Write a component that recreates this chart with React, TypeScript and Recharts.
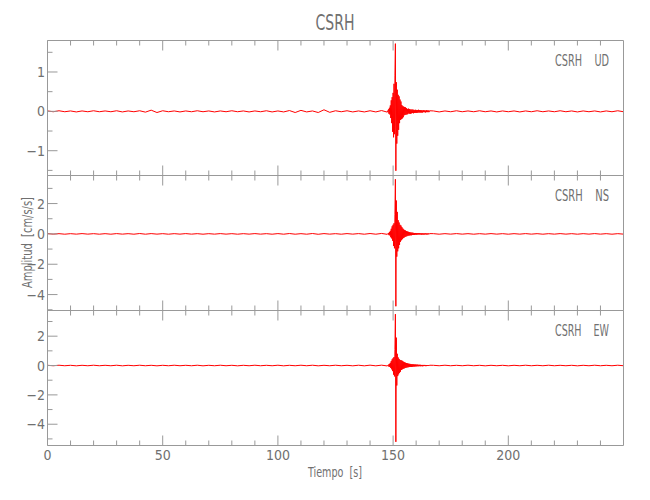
import { Line, LineChart, XAxis, YAxis } from "recharts";

// tiempo [s]
const xTicks = [0, 10, 20, 30, 40, 50, 60, 70, 80, 90, 100, 110, 120, 130, 140, 150, 160, 170, 180, 190, 200, 210, 220, 230, 240];
const xMajor = [0, 50, 100, 150, 200];

const udTicks = [-1.5, -1, -0.5, 0, 0.5, 1, 1.5];
const udMajor = [-1, 0, 1];
const nsTicks = [-5, -4, -3, -2, -1, 0, 1, 2, 3];
const nsMajor = [-4, -2, 0, 2];
const ewTicks = [-5, -4, -3, -2, -1, 0, 1, 2, 3];
const ewMajor = [-4, -2, 0, 2];

// muestreo: ruido cada 2.5 s, evento cada 0.2 s desde 148 s, ruido desde 167.5 s
const bgStep = 2.5;
const evStart = 148;
const evStep = 0.2;
const postStart = 167.5;

const udPre = [
  0.01, -0.01, 0.015, -0.01, 0.01, -0.015, 0.01, -0.01, 0.015, -0.01,
  0.01, -0.01, 0.015, -0.015, 0.01, -0.01, 0.015, -0.02, 0.03, -0.03,
  0.015, -0.01, 0.01, -0.015, 0.01, -0.01, 0.015, -0.01, 0.01, -0.015,
  0.01, -0.01, 0.015, -0.01, 0.01, -0.015, 0.01, -0.01, 0.015, -0.015,
  0.01, -0.015, 0.02, -0.03, 0.025, -0.015, 0.01, -0.03, 0.04, -0.025,
  0.015, -0.01, 0.015, -0.015, 0.01, -0.015, 0.015, -0.015, 0.02, -0.02,
];
const udEv = [
  0.05, -0.06, 0.09, -0.08, 0.15, -0.17, 0.28, -0.3, 0.36, -0.52,
  0.47, -0.66, 0.7, -0.58, 0.92, 1.72, -1.51, 0.74, -0.82, 0.55,
  -0.62, 0.42, -0.47, 0.38, -0.3, 0.3, -0.22, 0.25, -0.2, 0.16,
  -0.18, 0.13, -0.15, 0.12, -0.1, 0.11, -0.09, 0.1, -0.08, 0.08,
  -0.08, 0.06, -0.07, 0.07, -0.05, 0.06, -0.06, 0.05, -0.06, 0.04,
  -0.05, 0.05, -0.04, 0.04, -0.05, 0.04, -0.04, 0.03, -0.04, 0.04,
  -0.04, 0.03, -0.04, 0.03, -0.03, 0.04, -0.03, 0.03, -0.03, 0.03,
  -0.03, 0.03, -0.03, 0.02, -0.03, 0.03, -0.02, 0.03, -0.02, 0.02,
  -0.03, 0.02, -0.02, 0.03, -0.02, 0.02, -0.02, 0.02, -0.02, 0.015,
];
const udPost = [
  0.01, -0.015, 0.01, -0.01, 0.015, -0.01, 0.01, -0.01, 0.015, -0.01,
  0.01, -0.015, 0.01, -0.01, 0.01, -0.015, 0.01, -0.01, 0.015, -0.01,
  0.01, -0.01, 0.015, -0.01, 0.01, -0.015, 0.01, -0.01, 0.01, -0.015,
  0.01, -0.01, 0.015, -0.01,
];

const nsPre = [
  0.02, -0.015, 0.015, -0.02, 0.015, -0.015, 0.02, -0.015, 0.015, -0.02,
  0.015, -0.02, 0.02, -0.015, 0.015, -0.02, 0.025, -0.02, 0.02, -0.015,
  0.015, -0.02, 0.015, -0.015, 0.02, -0.015, 0.015, -0.02, 0.015, -0.015,
  0.02, -0.015, 0.015, -0.02, 0.015, -0.015, 0.02, -0.015, 0.015, -0.02,
  0.02, -0.02, 0.025, -0.02, 0.015, -0.02, 0.025, -0.025, 0.02, -0.015,
  0.015, -0.02, 0.02, -0.015, 0.02, -0.02, 0.025, -0.02, 0.03, -0.03,
];
const nsEv = [
  0.06, -0.08, 0.12, -0.1, 0.2, -0.22, 0.34, -0.3, 0.5, -0.45,
  0.6, -0.8, 0.7, -0.95, 1.3, 3.6, -4.77, 2.2, -1.5, 1.45,
  -1.15, 0.9, -0.95, 0.75, -0.72, 0.6, -0.52, 0.55, -0.42, 0.45,
  -0.35, 0.36, -0.28, 0.3, -0.24, 0.25, -0.2, 0.22, -0.17, 0.18,
  -0.15, 0.16, -0.12, 0.14, -0.11, 0.12, -0.1, 0.1, -0.09, 0.09,
  -0.09, 0.08, -0.07, 0.08, -0.07, 0.06, -0.07, 0.06, -0.05, 0.06,
  -0.06, 0.05, -0.05, 0.05, -0.04, 0.05, -0.04, 0.05, -0.04, 0.04,
  -0.04, 0.04, -0.05, 0.04, -0.04, 0.04, -0.04, 0.03, -0.04, 0.04,
  -0.03, 0.04, -0.04, 0.03, -0.04, 0.03, -0.03, 0.03, -0.025, 0.02,
];
const nsPost = [
  0.015, -0.02, 0.015, -0.015, 0.02, -0.015, 0.015, -0.02, 0.015, -0.015,
  0.02, -0.015, 0.015, -0.02, 0.015, -0.015, 0.02, -0.015, 0.015, -0.02,
  0.015, -0.015, 0.02, -0.015, 0.015, -0.02, 0.015, -0.015, 0.02, -0.015,
  0.015, -0.02, 0.015, -0.015,
];

const ewPre = [
  0.015, -0.015, 0.02, -0.015, 0.015, -0.02, 0.015, -0.015, 0.02, -0.015,
  0.015, -0.015, 0.02, -0.02, 0.015, -0.015, 0.02, -0.015, 0.015, -0.02,
  0.015, -0.015, 0.02, -0.015, 0.015, -0.015, 0.02, -0.02, 0.015, -0.015,
  0.02, -0.015, 0.015, -0.02, 0.015, -0.015, 0.02, -0.015, 0.015, -0.015,
  0.02, -0.02, 0.015, -0.015, 0.02, -0.015, 0.02, -0.02, 0.015, -0.015,
  0.02, -0.015, 0.015, -0.02, 0.02, -0.02, 0.025, -0.02, 0.025, -0.03,
];
const ewEv = [
  0.06, -0.08, 0.11, -0.1, 0.18, -0.17, 0.3, -0.26, 0.42, -0.38,
  0.5, -0.62, 0.58, -0.74, 1.1, 3.5, -5.2, 1.9, -1.36, 0.8,
  -0.72, 0.55, -0.6, 0.45, -0.5, 0.38, -0.42, 0.36, -0.3, 0.34,
  -0.26, 0.3, -0.22, 0.25, -0.2, 0.22, -0.17, 0.19, -0.15, 0.17,
  -0.13, 0.15, -0.12, 0.13, -0.11, 0.12, -0.1, 0.11, -0.09, 0.1,
  -0.09, 0.09, -0.08, 0.09, -0.07, 0.08, -0.07, 0.07, -0.06, 0.07,
  -0.06, 0.06, -0.05, 0.06, -0.05, 0.05, -0.05, 0.05, -0.04, 0.05,
  -0.05, 0.04, -0.04, 0.04, -0.05, 0.04, -0.04, 0.04, -0.03, 0.04,
  -0.04, 0.03, -0.04, 0.03, -0.03, 0.03, -0.03, 0.03, -0.025, 0.02,
];
const ewPost = [
  0.015, -0.015, 0.02, -0.015, 0.015, -0.015, 0.02, -0.015, 0.015, -0.02,
  0.015, -0.015, 0.015, -0.02, 0.015, -0.015, 0.02, -0.015, 0.015, -0.015,
  0.02, -0.015, 0.015, -0.015, 0.015, -0.02, 0.015, -0.015, 0.02, -0.015,
  0.015, -0.015, 0.02, -0.015,
];

const FONT = '"Liberation Sans Narrow", "DejaVu Sans Condensed", "Liberation Sans", sans-serif';
const FRAME = "#999999";
const TEXT = "#707070";
const PLOT_LEFT = 47.5;
const PLOT_RIGHT = 623.5;
const AX = 1; // tamaño mínimo de los ejes

type Pt = { t: number; v: number };

const buildSeries = (pre: number[], ev: number[], post: number[]): Pt[] => [
  ...pre.map((v, i) => ({ t: i * bgStep, v })),
  ...ev.map((v, i) => ({ t: evStart + i * evStep, v })),
  ...post.map((v, i) => ({ t: postStart + i * bgStep, v })),
];

const fmt = (v: number) => (v < 0 ? `\u2212${Math.abs(v)}` : `${v}`);

const xTick = (side: "top" | "bottom", showLabel: boolean) => (props: any) => {
  const { x, y, payload } = props;
  const major = xMajor.includes(payload.value);
  const len = major ? 10 : 5;
  const dir = side === "bottom" ? -1 : 1;
  return (
    <g>
      <line x1={x} y1={y} x2={x} y2={y + dir * len} stroke={FRAME} />
      {showLabel && major && (
        <text x={x} y={y + 14} textAnchor="middle" fontSize={14} fontFamily={FONT} fill={TEXT}>
          {payload.value}
        </text>
      )}
    </g>
  );
};

const yTick = (side: "left" | "right", majors: number[]) => (props: any) => {
  const { x, y, payload } = props;
  const major = majors.includes(payload.value);
  const len = major ? 10 : 5;
  const dir = side === "left" ? 1 : -1;
  return (
    <g>
      <line x1={x} y1={y} x2={x + dir * len} y2={y} stroke={FRAME} />
      {side === "left" && major && (
        <text x={x - 2.5} y={y + 5} textAnchor="end" fontSize={14} fontFamily={FONT} fill={TEXT}>
          {fmt(payload.value)}
        </text>
      )}
    </g>
  );
};

type PanelProps = {
  data: Pt[];
  top: number;
  bottom: number;
  domain: [number, number];
  yTicks: number[];
  yMajor: number[];
  showX: boolean;
};

const Panel = ({ data, top, bottom, domain, yTicks, yMajor, showX }: PanelProps) => (
  <div style={{ position: "absolute", left: 0, top: 0 }}>
    <LineChart
      width={650}
      height={500}
      data={data}
      margin={{
        top: top - AX,
        bottom: 500 - bottom - AX,
        left: PLOT_LEFT - AX,
        right: 650 - PLOT_RIGHT - AX,
      }}
    >
      <XAxis
        xAxisId="b"
        dataKey="t"
        type="number"
        domain={[0, 250]}
        ticks={xTicks}
        interval={0}
        orientation="bottom"
        height={AX}
        tickSize={0}
        tickMargin={0}
        tickLine={false}
        axisLine={{ stroke: FRAME }}
        tick={xTick("bottom", showX)}
      />
      <XAxis
        xAxisId="t"
        dataKey="t"
        type="number"
        domain={[0, 250]}
        ticks={xTicks}
        interval={0}
        orientation="top"
        height={AX}
        tickSize={0}
        tickMargin={0}
        tickLine={false}
        axisLine={{ stroke: FRAME }}
        tick={xTick("top", false)}
      />
      <YAxis
        yAxisId="l"
        type="number"
        domain={domain}
        ticks={yTicks}
        interval={0}
        orientation="left"
        width={AX}
        tickSize={0}
        tickMargin={0}
        tickLine={false}
        axisLine={{ stroke: FRAME }}
        tick={yTick("left", yMajor)}
      />
      <YAxis
        yAxisId="r"
        type="number"
        domain={domain}
        ticks={yTicks}
        interval={0}
        orientation="right"
        width={AX}
        tickSize={0}
        tickMargin={0}
        tickLine={false}
        axisLine={{ stroke: FRAME }}
        tick={yTick("right", yMajor)}
      />
      <Line
        xAxisId="b"
        yAxisId="l"
        dataKey="v"
        stroke="#ff0000"
        strokeWidth={1}
        dot={false}
        isAnimationActive={false}
      />
    </LineChart>
  </div>
);

const stationLabels = [
  { comp: "UD", y: 66 },
  { comp: "NS", y: 201 },
  { comp: "EW", y: 336 },
];

export default function App() {
  return (
    <div style={{ position: "absolute", left: 0, top: 0, width: 650, height: 500, background: "#fff" }}>
      <Panel data={buildSeries(udPre, udEv, udPost)} top={40.5} bottom={175.5} domain={[-1.63, 1.8]} yTicks={udTicks} yMajor={udMajor} showX={false} />
      <Panel data={buildSeries(nsPre, nsEv, nsPost)} top={175.5} bottom={310.5} domain={[-5.05, 3.85]} yTicks={nsTicks} yMajor={nsMajor} showX={false} />
      <Panel data={buildSeries(ewPre, ewEv, ewPost)} top={310.5} bottom={445.5} domain={[-5.45, 3.75]} yTicks={ewTicks} yMajor={ewMajor} showX={true} />
      <svg width={650} height={500} style={{ position: "absolute", left: 0, top: 0, pointerEvents: "none" }}>
        <text x={335} y={30} textAnchor="middle" fontSize={22} fontFamily={FONT} fill={TEXT} textLength={39} lengthAdjust="spacingAndGlyphs">
          CSRH
        </text>
        <text x={308} y={477} fontSize={14} fontFamily={FONT} fill={TEXT} xmlSpace="preserve" style={{ whiteSpace: "pre" }} textLength={54} lengthAdjust="spacingAndGlyphs">
          {"Tiempo  [s]"}
        </text>
        <text x={32} y={288} transform="rotate(-90 32 288)" fontSize={14} fontFamily={FONT} fill={TEXT} xmlSpace="preserve" style={{ whiteSpace: "pre" }} textLength={91} lengthAdjust="spacingAndGlyphs">
          {"Amplitud  [cm/s/s]"}
        </text>
        {stationLabels.map((s) => (
          <text key={s.comp} x={555} y={s.y} fontSize={15} fontFamily={FONT} fill={TEXT} xmlSpace="preserve" style={{ whiteSpace: "pre" }} textLength={54} lengthAdjust="spacingAndGlyphs">
            {`CSRH    ${s.comp}`}
          </text>
        ))}
      </svg>
    </div>
  );
}
